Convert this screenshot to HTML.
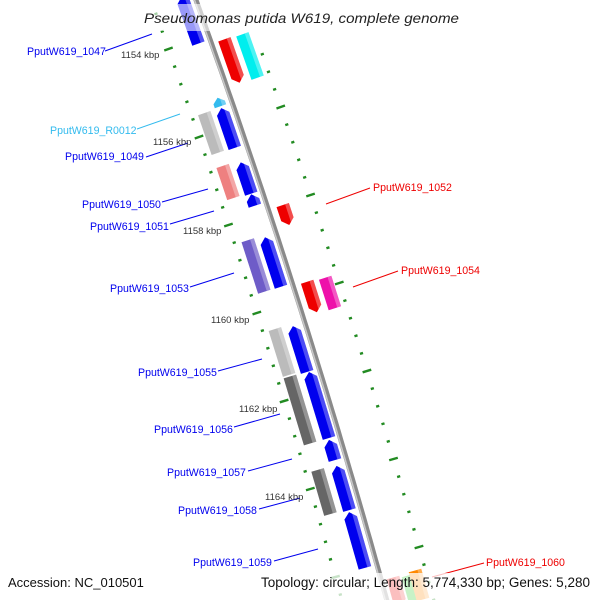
<!DOCTYPE html>
<html><head><meta charset="utf-8"><style>
html,body{margin:0;padding:0;background:#fff}
svg{display:block}
text{font-family:"Liberation Sans",sans-serif}
</style></head><body>
<svg id="s" width="600" height="600" viewBox="0 0 600 600" xmlns="http://www.w3.org/2000/svg">
<g id="dots"></g>
<path id="bb" fill="none" stroke="#8a8a8a" stroke-width="5"/>
<path id="bb2" fill="none" stroke="#c8c8c8" stroke-width="1.5"/>
<g id="genes"></g>
<g stroke-width="1">
<line x1="105" y1="51" x2="152" y2="34" stroke="#0000ee"/>
<line x1="137" y1="129" x2="180" y2="114" stroke="#33bbee"/>
<line x1="146" y1="157" x2="188" y2="143" stroke="#0000ee"/>
<line x1="162" y1="202" x2="208" y2="189" stroke="#0000ee"/>
<line x1="170" y1="224" x2="214" y2="211" stroke="#0000ee"/>
<line x1="326" y1="204" x2="370" y2="188" stroke="#ee0000"/>
<line x1="190" y1="287" x2="234" y2="273" stroke="#0000ee"/>
<line x1="353" y1="287" x2="398" y2="271" stroke="#ee0000"/>
<line x1="218" y1="371" x2="262" y2="359" stroke="#0000ee"/>
<line x1="234" y1="427" x2="280" y2="414" stroke="#0000ee"/>
<line x1="248" y1="471" x2="292" y2="459" stroke="#0000ee"/>
<line x1="259" y1="509" x2="300" y2="498" stroke="#0000ee"/>
<line x1="274" y1="561" x2="318" y2="549" stroke="#0000ee"/>
<line x1="432" y1="577" x2="484" y2="563" stroke="#ee0000"/>
</g>
<g font-size="10.6">
<text x="27" y="55" fill="#0000ee">PputW619_1047</text>
<text x="50" y="134" fill="#33bbee">PputW619_R0012</text>
<text x="65" y="160" fill="#0000ee">PputW619_1049</text>
<text x="82" y="208" fill="#0000ee">PputW619_1050</text>
<text x="90" y="230" fill="#0000ee">PputW619_1051</text>
<text x="373" y="191" fill="#ee0000">PputW619_1052</text>
<text x="110" y="292" fill="#0000ee">PputW619_1053</text>
<text x="401" y="274" fill="#ee0000">PputW619_1054</text>
<text x="138" y="376" fill="#0000ee">PputW619_1055</text>
<text x="154" y="433" fill="#0000ee">PputW619_1056</text>
<text x="167" y="476" fill="#0000ee">PputW619_1057</text>
<text x="178" y="514" fill="#0000ee">PputW619_1058</text>
<text x="193" y="566" fill="#0000ee">PputW619_1059</text>
<text x="486" y="566" fill="#ee0000">PputW619_1060</text>
</g>
<g font-size="9.5" fill="#333">
<text x="121" y="58">1154 kbp</text>
<text x="153" y="145">1156 kbp</text>
<text x="183" y="234">1158 kbp</text>
<text x="211" y="323">1160 kbp</text>
<text x="239" y="412">1162 kbp</text>
<text x="265" y="500">1164 kbp</text>
</g>
<rect x="0" y="4" width="600" height="27" fill="#fff" opacity="0.6"/>
<text x="144" y="23" font-size="14" font-style="italic" textLength="315" lengthAdjust="spacingAndGlyphs" fill="#222">Pseudomonas putida W619, complete genome</text>
<rect x="0" y="573" width="600" height="27" fill="#fff" opacity="0.75"/>
<text x="8" y="587" font-size="13" fill="#111">Accession: NC_010501</text>
<text x="261" y="587" font-size="13.5" fill="#111" textLength="329" lengthAdjust="spacingAndGlyphs">Topology: circular; Length: 5,774,330 bp; Genes: 5,280</text>
</svg>
<script>
var NS="http://www.w3.org/2000/svg";
function xb(y){return 196+0.36*y-0.00007*y*y;}
function ang(y){return Math.atan(0.36-0.00014*y)*180/Math.PI;}
var d="M"+xb(-10)+" -10";
for(var y=0;y<=610;y+=10)d+=" L"+xb(y).toFixed(1)+" "+y;
document.getElementById("bb").setAttribute("d",d);
var bb2=document.getElementById("bb2");bb2.setAttribute("d",d);bb2.setAttribute("transform","translate(-1.5,0)");
function el(t,a,p){var e=document.createElementNS(NS,t);for(var k in a)e.setAttribute(k,a[k]);p.appendChild(e);return e;}
var dots=document.getElementById("dots");
function tick(x,y,big){var a=ang(y)*Math.PI/180;var L=big?4.5:1.6;var cx=Math.cos(a),sy=-Math.sin(a);
el("line",{x1:x-L*cx,y1:y-L*sy,x2:x+L*cx,y2:y+L*sy,stroke:"#228b22","stroke-width":2.4},dots);}
for(var n=-3;n<34;n++){var y=49+17.6*n;if(y>-5&&y<605)tick(xb(y)-45,y,n%5==0);
var y2=107+17.6*n;if(y2>-5&&y2<605)tick(xb(y2)+47,y2,n%5==0);}
var G=document.getElementById("genes");
function gene(cx,cy,L,col,dir,W,ah){W=W||13;ah=(ah===undefined)?6:ah;var g=el("g",{transform:"translate("+cx+","+cy+") rotate("+(-ang(cy)).toFixed(2)+")"},G);
var w=W/2,h=L/2,p;
if(dir==1)p=[[-w,-h+ah],[0,-h],[w,-h+ah],[w,h],[-w,h]];
else if(dir==-1)p=[[-w,-h],[w,-h],[w,h-ah],[0,h],[-w,h-ah]];
else p=[[-w,-h],[w,-h],[w,h],[-w,h]];
var s=p.map(function(q){return q[0]+","+q[1]}).join(" ");
el("polygon",{points:s,fill:col},g);
el("polygon",{points:p.map(function(q){return Math.max(q[0],w-4)+","+q[1]}).join(" "),fill:"#fff",opacity:0.3},g);
}
gene(190,20,50,"#0000ee",1);
gene(232,61,46,"#ee0000",-1);
gene(250,56,46,"#00eeee",0);
gene(219,102,9,"#33bbee",1,12,5);
gene(211,133,42,"#bbbbbb",0);
gene(228,128,42,"#0000ee",1);
gene(228,182,34,"#ee8080",0);
gene(246,178,33,"#0000ee",1);
gene(253,200,12,"#0000ee",1);
gene(286,215,21,"#ee0000",-1);
gene(256,266,54,"#6e5cc8",0);
gene(273,262,52,"#0000ee",1);
gene(312,297,32,"#ee0000",-1);
gene(330,293,32,"#ee11aa",0);
gene(282,352,48,"#bbbbbb",0);
gene(300,349,48,"#0000ee",1);
gene(300,410,70,"#666666",0);
gene(319,405,69,"#0000ee",1);
gene(332,450,21,"#0000ee",1);
gene(324,492,46,"#666666",0);
gene(343,488,46,"#0000ee",1);
gene(357,540,58,"#0000ee",1);
gene(397,592,30,"#ee0000",-1);
gene(412,590,30,"#22cc22",0);
gene(419,585,30,"#ff8800",0);
</script>
</body></html>
